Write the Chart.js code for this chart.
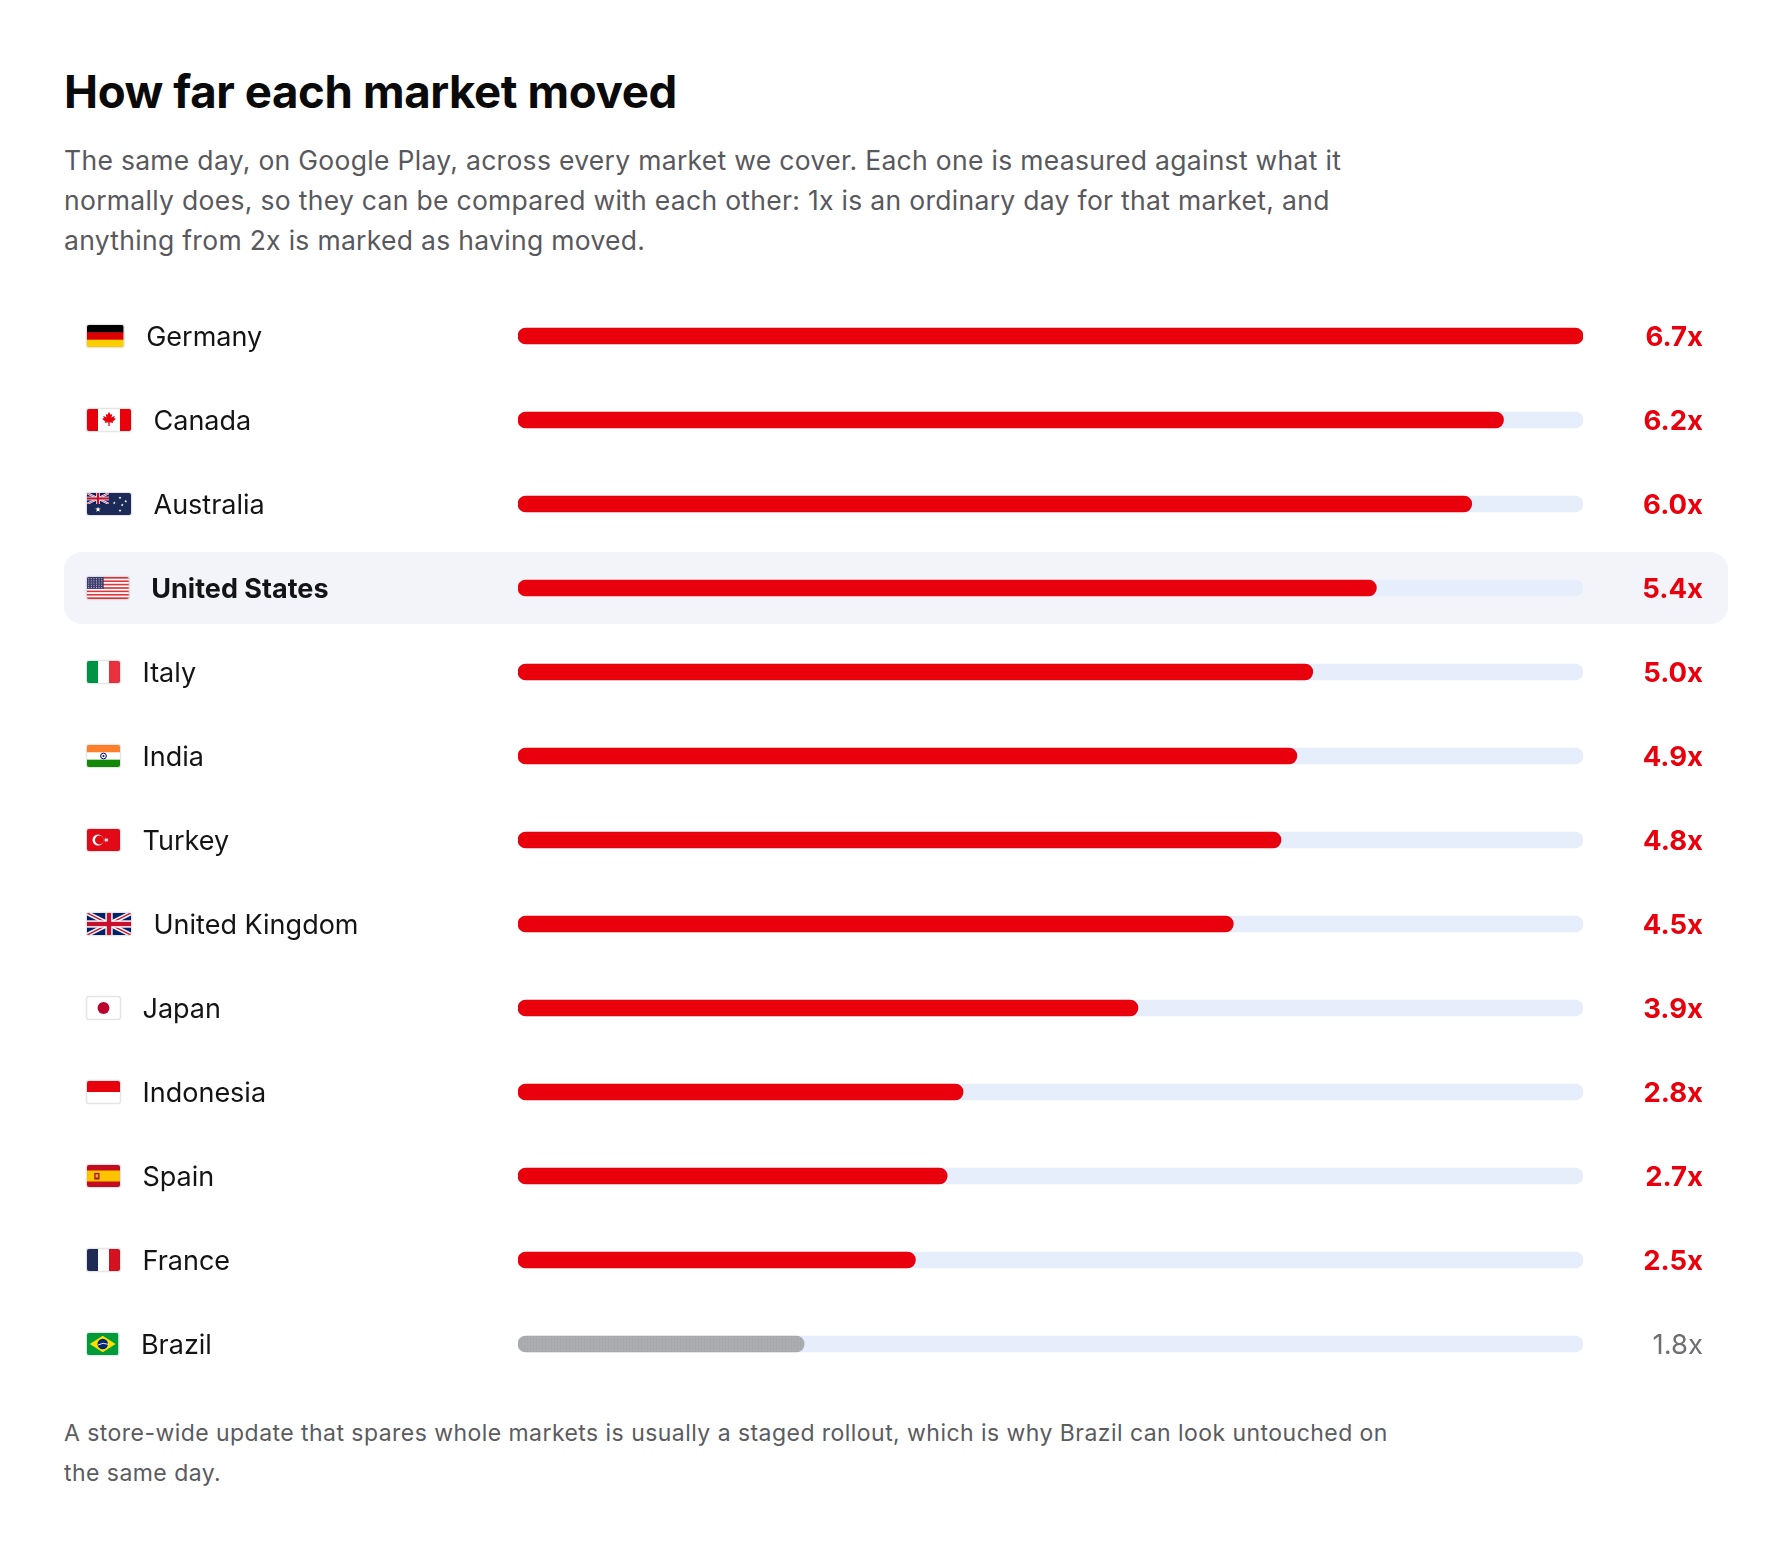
<!DOCTYPE html>
<html><head><meta charset="utf-8">
<script src="https://cdn.jsdelivr.net/npm/chart.js@4.4.1/dist/chart.umd.min.js"></script>
<style>
html,body{margin:0;padding:0;background:#fff;}
body{width:1792px;height:1562px;position:relative;overflow:hidden;font-family:Inter,"Noto Sans",sans-serif;}
#title{position:absolute;left:64px;top:64px;font-weight:700;font-size:45.6px;line-height:56px;color:#0a0a0b;white-space:nowrap;letter-spacing:-0.4px}
#sub{position:absolute;left:64px;top:140px;font-size:26.5px;line-height:40px;color:#58585d;white-space:nowrap;letter-spacing:0.3px}
#foot{position:absolute;left:64px;top:1413px;font-size:23px;line-height:40px;color:#5b5b60;white-space:nowrap;letter-spacing:0.45px}
#c{position:absolute;left:64px;top:294px}
</style></head><body>
<div id="title">How far each market moved</div>
<div id="sub">The same day, on Google Play, across every market we cover. Each one is measured against what it<br>normally does, so they can be compared with each other: 1x is an ordinary day for that market, and<br>anything from 2x is marked as having moved.</div>
<canvas id="c" width="1664" height="1092"></canvas>
<div id="foot">A store-wide update that spares whole markets is usually a staged rollout, which is why Brazil can look untouched on<br>the same day.</div>
<script>
// ---- data ----
const countries = ['Germany','Canada','Australia','United States','Italy','India','Turkey','United Kingdom','Japan','Indonesia','Spain','France','Brazil'];
const flagCodes = ['de','ca','au','us','it','in','tr','gb','jp','id','es','fr','br'];
const multiples = [6.7, 6.2, 6.0, 5.4, 5.0, 4.9, 4.8, 4.5, 3.9, 2.8, 2.7, 2.5, 1.8];
const scaleMax = 6.7;
const movedFrom = 2;
const highlighted = 'United States';

// ---- style ----
const RED = '#e8000d', TRACK = '#e7eefb', HILITE = '#f2f4f9';
const FLAG_H = 22;
const aspect = {de:5/3, ca:2, au:2, us:1.9, it:1.5, in:1.5, tr:1.5, gb:2, jp:1.5, id:1.5, es:1.5, fr:1.5, br:10/7};

// dotted grey pattern for markets that did not move
const pc = document.createElement('canvas'); pc.width = 3; pc.height = 3;
const pctx = pc.getContext('2d');
pctx.fillStyle = '#aaacb0'; pctx.fillRect(0,0,3,3);
pctx.fillStyle = '#9fa1a6'; pctx.fillRect(1,1,1,1);
const GREY = pctx.createPattern(pc, 'repeat');

function star(ctx, cx, cy, r, rot){
  ctx.beginPath();
  for(let k=0;k<10;k++){
    const a = (rot||-Math.PI/2) + k*Math.PI/5;
    const rr = k%2===0 ? r : r*0.42;
    ctx.lineTo(cx+Math.cos(a)*rr, cy+Math.sin(a)*rr);
  }
  ctx.closePath(); ctx.fill();
}
function unionJack(ctx,x,y,w,h){
  ctx.save(); ctx.beginPath(); ctx.rect(x,y,w,h); ctx.clip();
  ctx.fillStyle='#012169'; ctx.fillRect(x,y,w,h);
  const s=w/60;
  ctx.strokeStyle='#fff'; ctx.lineWidth=6*s;
  ctx.beginPath(); ctx.moveTo(x,y); ctx.lineTo(x+w,y+h); ctx.moveTo(x+w,y); ctx.lineTo(x,y+h); ctx.stroke();
  ctx.strokeStyle='#C8102E'; ctx.lineWidth=2*s;
  ctx.beginPath(); ctx.moveTo(x,y); ctx.lineTo(x+w,y+h); ctx.moveTo(x+w,y); ctx.lineTo(x,y+h); ctx.stroke();
  ctx.fillStyle='#fff'; ctx.fillRect(x+w/2-5*s,y,10*s,h); ctx.fillRect(x,y+h/2-5*s,w,10*s);
  ctx.fillStyle='#C8102E'; ctx.fillRect(x+w/2-3*s,y,6*s,h); ctx.fillRect(x,y+h/2-3*s,w,6*s);
  ctx.restore();
}
function hStripes(ctx,x,y,w,h,cols){
  const n=cols.length; cols.forEach((c,k)=>{ctx.fillStyle=c; ctx.fillRect(x,y+h*k/n,w,h/n+0.5);});
}
function vStripes(ctx,x,y,w,h,cols){
  const n=cols.length; cols.forEach((c,k)=>{ctx.fillStyle=c; ctx.fillRect(x+w*k/n,y,w/n+0.5,h);});
}
function drawFlag(ctx, code, x, y, w, h){
  ctx.save();
  ctx.beginPath(); ctx.roundRect(x,y,w,h,2); ctx.clip();
  const cx=x+w/2, cy=y+h/2;
  switch(code){
    case 'de': hStripes(ctx,x,y,w,h,['#000','#DD0000','#FFCE00']); break;
    case 'ca': {
      ctx.fillStyle='#fff'; ctx.fillRect(x,y,w,h);
      ctx.fillStyle='#E8000D'; ctx.fillRect(x,y,w/4,h); ctx.fillRect(x+w*3/4,y,w/4,h);
      const pts=[[0,-1],[0.2,-0.6],[0.45,-0.7],[0.35,-0.2],[0.8,-0.45],[0.7,-0.15],[0.95,0],[0.5,0.35],[0.6,0.55],[0.1,0.45],[0.08,0.95],[-0.08,0.95],[-0.1,0.45],[-0.6,0.55],[-0.5,0.35],[-0.95,0],[-0.7,-0.15],[-0.8,-0.45],[-0.35,-0.2],[-0.45,-0.7],[-0.2,-0.6]];
      const r=h*0.33; ctx.beginPath(); pts.forEach(p=>ctx.lineTo(cx+p[0]*r, cy-1+p[1]*r)); ctx.closePath(); ctx.fill();
      break;}
    case 'au': {
      ctx.fillStyle='#1b2a57'; ctx.fillRect(x,y,w,h);
      unionJack(ctx,x,y,w/2,h/2);
      ctx.fillStyle='#fff';
      star(ctx, x+w/4, y+h*0.75, h*0.13);
      [[0.75,0.8],[0.62,0.45],[0.75,0.22],[0.88,0.38],[0.8,0.55]].forEach(p=>star(ctx,x+w*p[0],y+h*p[1],h*0.07));
      break;}
    case 'us': {
      for(let k=0;k<13;k++){ctx.fillStyle=k%2?'#fff':'#D9383F'; ctx.fillRect(x,y+h*k/13,w,h/13+0.4);}
      ctx.fillStyle='#3C3B6E'; ctx.fillRect(x,y,w*0.4,h*7/13);
      ctx.fillStyle='rgba(255,255,255,0.7)';
      for(let r=0;r<5;r++) for(let c=0;c<6;c++) ctx.fillRect(x+1.2+c*2.6,y+1.2+r*2.2,1,1);
      break;}
    case 'it': vStripes(ctx,x,y,w,h,['#009246','#fff','#E8313D']); break;
    case 'in': {
      hStripes(ctx,x,y,w,h,['#FF7F2A','#fff','#138808']);
      ctx.strokeStyle='#000080'; ctx.lineWidth=1; ctx.beginPath(); ctx.arc(cx,cy,h*0.13,0,Math.PI*2); ctx.stroke();
      ctx.fillStyle='#000080'; ctx.beginPath(); ctx.arc(cx,cy,1,0,Math.PI*2); ctx.fill();
      break;}
    case 'tr': {
      ctx.fillStyle='#E30A17'; ctx.fillRect(x,y,w,h);
      ctx.fillStyle='#fff'; ctx.beginPath(); ctx.arc(x+h*0.5,cy,h*0.25,0,Math.PI*2); ctx.fill();
      ctx.fillStyle='#E30A17'; ctx.beginPath(); ctx.arc(x+h*0.5+h*0.0625,cy,h*0.2,0,Math.PI*2); ctx.fill();
      ctx.fillStyle='#fff'; star(ctx, x+h*0.88, cy, h*0.12, Math.PI);
      break;}
    case 'gb': unionJack(ctx,x,y,w,h); break;
    case 'jp': {
      ctx.fillStyle='#fff'; ctx.fillRect(x,y,w,h);
      ctx.fillStyle='#BC002D'; ctx.beginPath(); ctx.arc(cx,cy,h*0.27,0,Math.PI*2); ctx.fill();
      break;}
    case 'id': hStripes(ctx,x,y,w,h,['#E8000D','#fff']); break;
    case 'es': {
      ctx.fillStyle='#C60B1E'; ctx.fillRect(x,y,w,h);
      ctx.fillStyle='#FFC400'; ctx.fillRect(x,y+h/4,w,h/2);
      ctx.fillStyle='#AD1519'; ctx.fillRect(x+w*0.22,y+h*0.36,w*0.16,h*0.3);
      ctx.fillStyle='#E8A84A'; ctx.fillRect(x+w*0.26,y+h*0.42,w*0.08,h*0.15);
      break;}
    case 'fr': vStripes(ctx,x,y,w,h,['#1f2a55','#fff','#D5101F']); break;
    case 'br': {
      ctx.fillStyle='#009C3B'; ctx.fillRect(x,y,w,h);
      ctx.fillStyle='#FFDF00'; ctx.beginPath();
      ctx.moveTo(x+w*0.09,cy); ctx.lineTo(cx,y+h*0.12); ctx.lineTo(x+w*0.91,cy); ctx.lineTo(cx,y+h*0.88); ctx.closePath(); ctx.fill();
      ctx.fillStyle='#002776'; ctx.beginPath(); ctx.arc(cx,cy,h*0.24,0,Math.PI*2); ctx.fill();
      ctx.strokeStyle='#fff'; ctx.lineWidth=0.9; ctx.beginPath(); ctx.arc(cx+1,cy+h*0.45,h*0.48,-Math.PI*0.68,-Math.PI*0.36); ctx.stroke();
      break;}
  }
  ctx.restore();
  ctx.save();
  ctx.strokeStyle='rgba(0,0,0,0.10)'; ctx.lineWidth=1.5;
  ctx.beginPath(); ctx.roundRect(x-0.5,y-0.5,w+1,h+1,2.5); ctx.stroke();
  ctx.restore();
}

const rowsPlugin = {
  id:'rows',
  beforeDatasetsDraw(chart){
    const ctx=chart.ctx, ys=chart.scales.y;
    countries.forEach((c,i)=>{
      if(c!==highlighted) return;
      const cy=ys.getPixelForValue(i);
      ctx.save(); ctx.fillStyle=HILITE; ctx.beginPath(); ctx.roundRect(0,cy-36,chart.width,72,18); ctx.fill(); ctx.restore();
    });
  },
  afterDatasetsDraw(chart){
    const ctx=chart.ctx, ys=chart.scales.y;
    countries.forEach((c,i)=>{
      const cy=ys.getPixelForValue(i);
      const code=flagCodes[i], w=FLAG_H*aspect[code];
      const fx=23;
      drawFlag(ctx, code, fx, cy-FLAG_H/2, w, FLAG_H);
      ctx.save();
      ctx.font=(c===highlighted?'700 ':'400 ')+'27px Inter';
      ctx.fillStyle='#141416'; ctx.textAlign='left'; ctx.textBaseline='alphabetic';
      const capH=ctx.measureText('H').actualBoundingBoxAscent;
      ctx.fillText(c, fx+w+22.5, cy+capH/2);
      const v=multiples[i], moved=v>=movedFrom;
      ctx.font=(moved?'700 ':'400 ')+'27.5px Inter';
      ctx.fillStyle=moved?RED:'#6e6e73'; ctx.textAlign='right';
      const capV=ctx.measureText('5').actualBoundingBoxAscent;
      ctx.fillText(v.toFixed(1)+'x', chart.width-25, cy+capV/2);
      ctx.restore();
    });
  }
};

new Chart(document.getElementById('c'), {
  type:'bar',
  data:{
    labels:countries,
    datasets:[
      {label:'Multiple of a normal day', data:multiples, order:0, grouped:false,
       backgroundColor:multiples.map(v=>v>=movedFrom?RED:GREY),
       barThickness:16, borderRadius:8, borderSkipped:false},
      {label:'Track', data:countries.map(()=>scaleMax), order:1, grouped:false,
       backgroundColor:TRACK, barThickness:16, borderRadius:8, borderSkipped:false}
    ]
  },
  options:{
    indexAxis:'y', responsive:false, animation:false, devicePixelRatio:1,
    layout:{padding:{left:454,right:145,top:0,bottom:0}},
    scales:{
      x:{type:'linear', min:0, max:scaleMax, display:false},
      y:{type:'category', display:false, offset:true}
    },
    plugins:{legend:{display:false}, tooltip:{enabled:false}}
  },
  plugins:[rowsPlugin]
});
</script>
</body></html>
